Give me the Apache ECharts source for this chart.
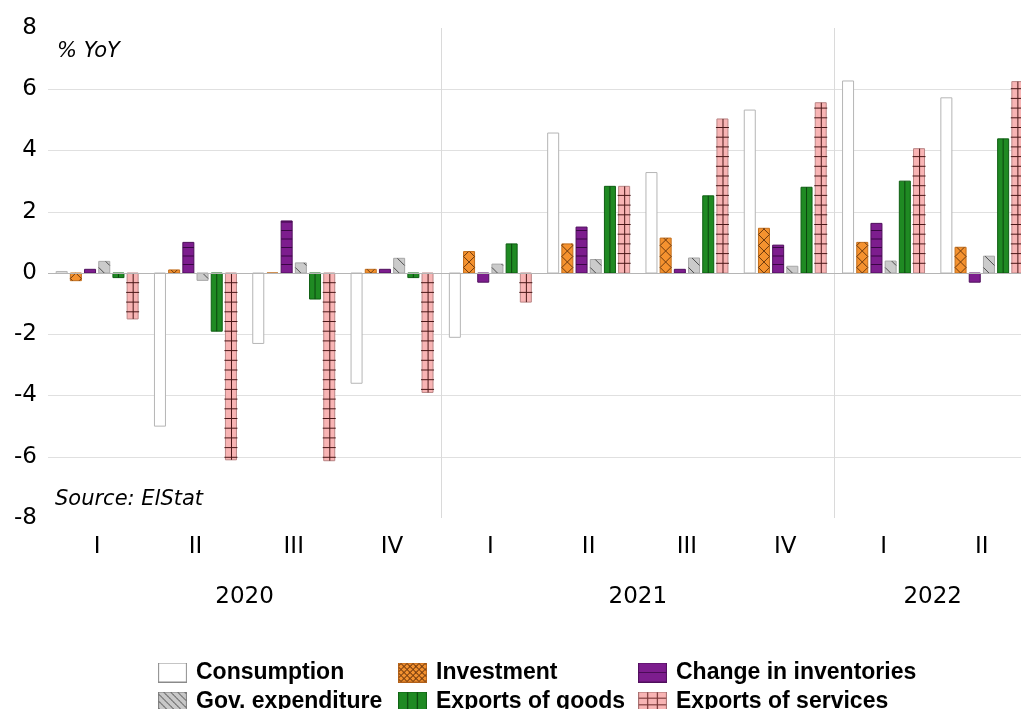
<!DOCTYPE html>
<html>
<head>
<meta charset="utf-8">
<script src="https://cdn.jsdelivr.net/npm/echarts@6/dist/echarts.min.js"></script>
<style>
  html, body { margin: 0; padding: 0; background: #ffffff; overflow: hidden; }
  #chart { width: 1021px; height: 709px; }
</style>
</head>
<body>
<div id="chart"></div>
<script>
// ---- data: GDP components, % YoY ----
const quarters = ['I', 'II', 'III', 'IV', 'I', 'II', 'III', 'IV', 'I', 'II'];
const years = ['2020', '2021', '2022'];
const seriesNames = ['Consumption', 'Investment', 'Change in inventories',
                     'Gov. expenditure', 'Exports of goods', 'Exports of services'];

const consumption      = [0.05, -5.0, -2.3, -3.6, -2.1, 4.57, 3.28, 5.32, 6.27, 5.72];
const investment       = [-0.25, 0.1, 0.0, 0.12, 0.7, 0.95, 1.14, 1.46, 1.0, 0.84];
const inventories      = [0.12, 1.0, 1.7, 0.12, -0.3, 1.5, 0.12, 0.91, 1.62, -0.3];
const govExpenditure   = [0.38, -0.24, 0.33, 0.48, 0.29, 0.44, 0.49, 0.22, 0.39, 0.55];
const exportsGoods     = [-0.15, -1.9, -0.85, -0.15, 0.95, 2.83, 2.52, 2.8, 3.0, 4.38];
const exportsServices  = [-1.5, -6.1, -6.13, -3.9, -0.95, 2.83, 5.03, 5.56, 4.06, 6.25];

const yMin = -8, yMax = 8, yStep = 2;

const allValues = [consumption, investment, inventories, govExpenditure, exportsGoods, exportsServices];

// year spans derived from the quarter labels (a new year starts at every 'I')
const yearStarts = quarters.map((q, i) => q === 'I' ? i : -1).filter(i => i >= 0);
const yearBreaks = yearStarts.slice(1);
const yearCenters = yearStarts.map((s, i) => {
  const e = i + 1 < yearStarts.length ? yearStarts[i + 1] : quarters.length;
  return (s + e) / 2;
});

// ---- fill styles and hatching ----
function hLines(step, color, extend) {
  return function (out, x0, x1, top, bot, zeroY) {
    for (let n = 1; n < 200; n++) {
      const yUp = zeroY - n * step, yDn = zeroY + n * step;
      if (yUp > top + 1) out.push(seg(x0 - extend, yUp, x1 + extend, yUp, color));
      if (yDn < bot - 1) out.push(seg(x0 - extend, yDn, x1 + extend, yDn, color));
      if (yUp <= top && yDn >= bot) break;
    }
  };
}
function vLine(frac, color) {
  return function (out, x0, x1, top, bot) {
    if (bot - top < 2) return;
    const x = x0 + (x1 - x0) * frac;
    out.push(seg(x, top, x, bot, color));
  };
}
// diagonal lines at 45 degrees; dir 1 = '\', dir -1 = '/'
function diag(step, color, dir) {
  return function (out, x0, x1, top, bot, zeroY) {
    const xc = (x0 + x1) / 2;
    for (let n = -300; n <= 300; n++) {
      if (dir === 1) {
        const c = zeroY - xc + n * step;           // y - x = c
        const a = Math.max(x0, top - c), b = Math.min(x1, bot - c);
        if (b - a > 0.5) out.push(seg(a, a + c, b, b + c, color));
      } else {
        const c = zeroY + xc + n * step;           // y + x = c
        const a = Math.max(x0, c - bot), b = Math.min(x1, c - top);
        if (b - a > 0.5) out.push(seg(a, c - a, b, c - b, color));
      }
    }
  };
}
function seg(x1, y1, x2, y2, color) {
  return { type: 'line', shape: { x1, y1, x2, y2 }, style: { stroke: color, lineWidth: 1 } };
}
function combine(...fns) {
  return function (...args) { fns.forEach(f => f(...args)); };
}

const styles = [
  { fill: '#ffffff', stroke: '#b5b5b5', pattern: null },
  { fill: '#f5922f', stroke: '#c06d1b',
    pattern: combine(diag(11, '#6e3a0e', 1), diag(11, '#6e3a0e', -1)) },
  { fill: '#7d1d8e', stroke: '#4f0f5c', pattern: hLines(8.5, '#3a0745', 0) },
  { fill: '#cbcbcb', stroke: '#a6a6a6', pattern: diag(13, '#4d4d4d', 1) },
  { fill: '#1f8a23', stroke: '#0f5e13', pattern: vLine(0.5, '#0c470f') },
  { fill: '#f8b4b4', stroke: '#b98585',
    pattern: combine(hLines(9.7, '#4a1818', 1), vLine(0.55, '#4a1818')) }
];

function makeRender(slot) {
  const st = styles[slot];
  return function (params, api) {
    const idx = api.value(0), val = api.value(1);
    const base = api.coord([idx, 0]);
    const end = api.coord([idx, val]);
    const band = api.size([1, 0])[0];
    const barW = band * 0.112, pitch = band * 0.1444;
    const x0 = base[0] + (slot - 2.5) * pitch - barW / 2;
    const x1 = x0 + barW;
    const top = Math.min(base[1], end[1]), bot = Math.max(base[1], end[1]);
    const children = [{
      type: 'rect',
      shape: { x: x0, y: top, width: barW, height: bot - top },
      style: { fill: st.fill, stroke: st.stroke, lineWidth: 1 }
    }];
    if (st.pattern) st.pattern(children, x0, x1, top, bot, base[1]);
    return { type: 'group', children };
  };
}

// ---- legend swatches ----
function swatch(kind) {
  const w = 29, h = 20, s = 3;
  const c = document.createElement('canvas');
  c.width = w * s; c.height = h * s;
  const g = c.getContext('2d');
  g.scale(s, s);
  g.lineWidth = 1;
  const line = (a, b, cc, d, col) => { g.strokeStyle = col; g.beginPath(); g.moveTo(a, b); g.lineTo(cc, d); g.stroke(); };
  const fills = ['#ffffff', '#f5922f', '#7d1d8e', '#c8c8c8', '#1f8a23', '#f8b4b4'];
  g.fillStyle = fills[kind];
  g.fillRect(0, 0, w, h);
  g.save();
  g.beginPath(); g.rect(0, 0, w, h); g.clip();
  if (kind === 1) {
    for (let k = -40; k < 60; k += 6) { line(k, 0, k + h, h, '#7a3f0f'); line(k, h, k + h, 0, '#7a3f0f'); }
  } else if (kind === 2) {
    line(0, h / 2, w, h / 2, '#3a0745');
  } else if (kind === 3) {
    for (let k = -30; k < 40; k += 7) line(k, 0, k + h, h, '#6a6a6a');
  } else if (kind === 4) {
    line(w / 3, 0, w / 3, h, '#0c470f'); line(2 * w / 3, 0, 2 * w / 3, h, '#0c470f');
  } else if (kind === 5) {
    line(w / 3, 0, w / 3, h, '#7a3838'); line(2 * w / 3, 0, 2 * w / 3, h, '#7a3838');
    line(0, h / 3, w, h / 3, '#7a3838'); line(0, 2 * h / 3, w, 2 * h / 3, '#7a3838');
  }
  g.restore();
  g.strokeStyle = ['#8a8a8a', '#b0601a', '#4f0f5c', '#7a7a7a', '#0f5e13', '#a06a6a'][kind];
  g.strokeRect(0.5, 0.5, w - 1, h - 1);
  return 'image://' + c.toDataURL();
}
const icons = seriesNames.map((_, i) => swatch(i));

const legendText = { fontFamily: 'Liberation Sans', fontWeight: 'bold', fontSize: 23, lineHeight: 20,
                     color: '#000', padding: [0, 0, 0, 4] };
function legendColumn(left, names) {
  return {
    orient: 'vertical', left, top: 661, height: 60, width: 330, padding: 0,
    itemWidth: 29, itemHeight: 20, itemGap: 6, selectedMode: false,
    textStyle: legendText,
    data: names.map(n => ({ name: n, icon: icons[seriesNames.indexOf(n)] }))
  };
}

const axisFont = { fontFamily: 'DejaVu Sans', fontSize: 23, color: '#000' };
const noteFont = { fontFamily: 'DejaVu Sans', fontStyle: 'italic', fontSize: 21, fill: '#000', verticalAlign: 'middle' };

const chart = echarts.init(document.getElementById('chart'), null, { renderer: 'canvas' });
chart.setOption({
  animation: false,
  backgroundColor: '#ffffff',
  grid: { left: 48, width: 983, top: 28, height: 490, outerBoundsMode: 'none', containLabel: false },
  xAxis: [
    {
      type: 'category', data: quarters, boundaryGap: true,
      axisLine: { show: false }, axisTick: { show: false }, splitLine: { show: false },
      axisLabel: Object.assign({ margin: 18, interval: 0 }, axisFont)
    },
    {
      type: 'value', min: 0, max: quarters.length, interval: 1, position: 'bottom', offset: 50,
      axisLine: { show: false }, axisTick: { show: false }, splitLine: { show: false },
      axisLabel: Object.assign({
        margin: 18, showMinLabel: true, showMaxLabel: true,
        formatter: v => { const i = yearCenters.indexOf(v); return i >= 0 ? years[i] : ''; }
      }, axisFont)
    }
  ],
  yAxis: {
    type: 'value', min: yMin, max: yMax, interval: yStep,
    axisLine: { show: false }, axisTick: { show: false },
    axisLabel: Object.assign({ margin: 11 }, axisFont),
    splitLine: { show: true, showMinLine: false, showMaxLine: false, lineStyle: { color: '#e0e0e0', width: 1 } }
  },
  legend: [
    legendColumn(158, ['Consumption', 'Gov. expenditure']),
    legendColumn(398, ['Investment', 'Exports of goods']),
    legendColumn(638, ['Change in inventories', 'Exports of services'])
  ],
  graphic: [
    { type: 'text', style: Object.assign({ x: 57, y: 52, text: '% YoY' }, noteFont) },
    { type: 'text', style: Object.assign({ x: 55, y: 500, text: 'Source: ElStat' }, noteFont) }
  ],
  series: [
    {
      type: 'scatter', name: 'guides', xAxisIndex: 1, yAxisIndex: 0, data: [], z: 1, silent: true,
      markLine: {
        silent: true, symbol: 'none', label: { show: false },
        lineStyle: { color: '#dadada', width: 1, type: 'solid' },
        data: yearBreaks.map(b => ({ xAxis: b })).concat([{ yAxis: 0, lineStyle: { color: '#b5b5b5', width: 1, type: 'solid' } }])
      }
    }
  ].concat(seriesNames.map((name, s) => ({
    type: 'custom', name, xAxisIndex: 0, yAxisIndex: 0, z: 3,
    renderItem: makeRender(s),
    itemStyle: { color: styles[s].fill },
    encode: { x: 0, y: 1 },
    data: allValues[s].map((v, i) => [i, v])
  })))
});
</script>
</body>
</html>
